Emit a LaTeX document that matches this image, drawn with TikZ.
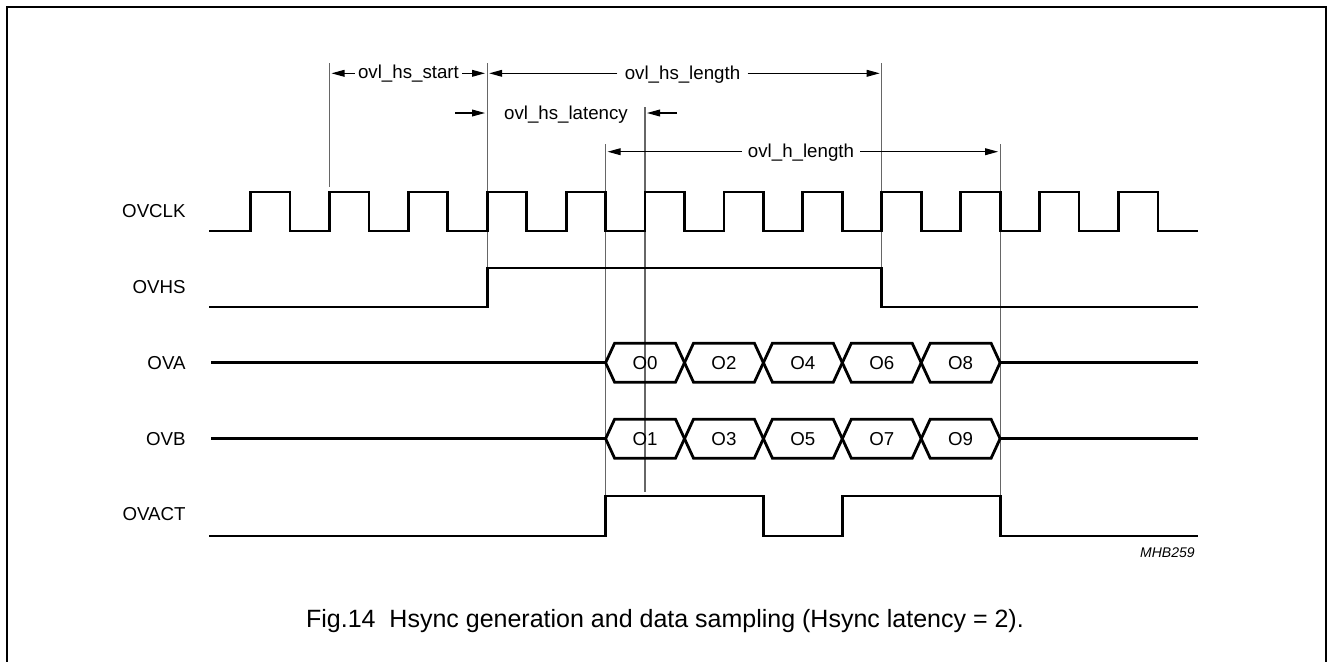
\documentclass[tikz,border=0pt]{standalone}
\usepackage{fontspec}
\setmainfont{Liberation Sans}
\usetikzlibrary{arrows.meta}
\begin{document}
\begin{tikzpicture}[x=0.5pt,y=-0.5pt,
  sig/.style={line width=1.4pt,line join=miter},
  guide/.style={line width=0.55pt,black!60},
  dimline/.style={line width=0.55pt,-{Triangle[length=6.5pt,width=3.4pt]}},
  frame/.style={line width=1pt},
  lbl/.style={font=\fontsize{9.35pt}{11pt}\selectfont,inner xsep=1.5pt,inner ysep=0pt,anchor=base},
  siglbl/.style={font=\fontsize{9.35pt}{11pt}\selectfont,anchor=east,inner sep=0pt},
  buslbl/.style={font=\fontsize{9.35pt}{11pt}\selectfont,inner sep=0pt},
  caption/.style={font=\fontsize{12.5pt}{15pt}\selectfont,anchor=base,inner sep=0pt},
  code/.style={font=\fontsize{7pt}{8pt}\selectfont\itshape,anchor=east,inner sep=0pt}]

\useasboundingbox (0,0) rectangle (1327,661);
\draw[frame] (6.5,700) -- (6.5,6.5) -- (1325.5,6.5) -- (1325.5,700);

\def\xA{329.4}\def\xB{487.2}\def\xC{605.6}\def\xD{645}\def\xE{881.7}\def\xF{1000.1}

% guide lines
\coordinate (gAt) at (\xA,63);  \coordinate (gAb) at (\xA,187);
\coordinate (gBt) at (\xB,63);  \coordinate (gBb) at (\xB,268);
\coordinate (gCt) at (\xC,144); \coordinate (gCb) at (\xC,496);
\coordinate (gDt) at (\xD,107); \coordinate (gDb) at (\xD,492);
\coordinate (gEt) at (\xE,63);  \coordinate (gEb) at (\xE,268);
\coordinate (gFt) at (\xF,144); \coordinate (gFb) at (\xF,496);
\foreach \g in {A,B,C,D,E,F}{\draw[guide] (g\g t) -- (g\g b);}

% dimension labels
\node[lbl] (lstart) at (408.5,78.8) {ovl\_hs\_start};
\node[lbl] (llength) at (682.5,79.3) {ovl\_hs\_length};
\node[lbl] (llat) at (566,119) {ovl\_hs\_latency};
\node[lbl] (lhlen) at (801,157.3) {ovl\_h\_length};

\coordinate (s1L) at (331.5,73.3); \coordinate (s1R) at (485,73.3);
\draw[dimline] (lstart.west |- s1L) -- (s1L);
\draw[dimline] (lstart.east |- s1R) -- (s1R);
\coordinate (s2L) at (489.2,73.3); \coordinate (s2R) at (879.7,73.3);
\draw[dimline] (llength.west |- s2L) ++(-4,0) -- (s2L);
\draw[dimline] (llength.east |- s2R) ++(4,0) -- (s2R);
\coordinate (s3Lo) at (455,113); \coordinate (s3L) at (485,113);
\coordinate (s3Ro) at (677,113); \coordinate (s3R) at (647,113);
\draw[dimline] (s3Lo) -- (s3L);
\draw[dimline] (s3Ro) -- (s3R);
\coordinate (s4L) at (607.6,151.7); \coordinate (s4R) at (998.1,151.7);
\draw[dimline] (lhlen.west |- s4L) ++(-3,0) -- (s4L);
\draw[dimline] (lhlen.east |- s4R) ++(3,0) -- (s4R);

% signal names
\node[siglbl] (nclk) at (186,211) {OVCLK};
\node[siglbl] (nhs) at (186,287) {OVHS};
\node[siglbl] (na) at (186,362.7) {OVA};
\node[siglbl] (nb) at (186,438.7) {OVB};
\node[siglbl] (nact) at (186,514) {OVACT};

% OVCLK
\draw[sig] (209,231) foreach \k in {0,...,11}{
  -- ({250.5+78.9*\k},231) -- ({250.5+78.9*\k},192)
  -- ({290+78.9*\k},192) -- ({290+78.9*\k},231)} -- (1197.5,231);

% OVHS
\draw[sig] (209,307) -- (\xB,307) -- (\xB,268) -- (\xE,268) -- (\xE,307) -- (1197.5,307);

% buses
\foreach \yc/\lst in {362.7/{0,2,4,6,8},438.7/{1,3,5,7,9}}{
  \draw[sig] (211,\yc) -- (\xC,\yc);
  \draw[sig] (\xF,\yc) -- (1197.5,\yc);
  \foreach \d [count=\i from 0] in \lst{
    \pgfmathsetmacro{\a}{605.6+78.9*\i}
    \pgfmathsetmacro{\b}{605.6+78.9*(\i+1)}
    \draw[sig] (\a,\yc) -- (\a+9,\yc-19.5) -- (\b-9,\yc-19.5) -- (\b,\yc)
      -- (\b-9,\yc+19.5) -- (\a+9,\yc+19.5) -- cycle;
    \node[buslbl] (o\d) at ({(\a+\b)/2},\yc) {O\d};
  }
}

% OVACT
\draw[sig] (209,536) -- (\xC,536) -- (\xC,496) -- (763.4,496) -- (763.4,536)
  -- (842.3,536) -- (842.3,496) -- (\xF,496) -- (\xF,536) -- (1197.5,536);

\node[code] (mhb) at (1195,552.7) {MHB259};
\node[caption] (cap) at (665,627) {Fig.14\ \ Hsync generation and data sampling (Hsync latency = 2).};
\end{tikzpicture}
\end{document}
